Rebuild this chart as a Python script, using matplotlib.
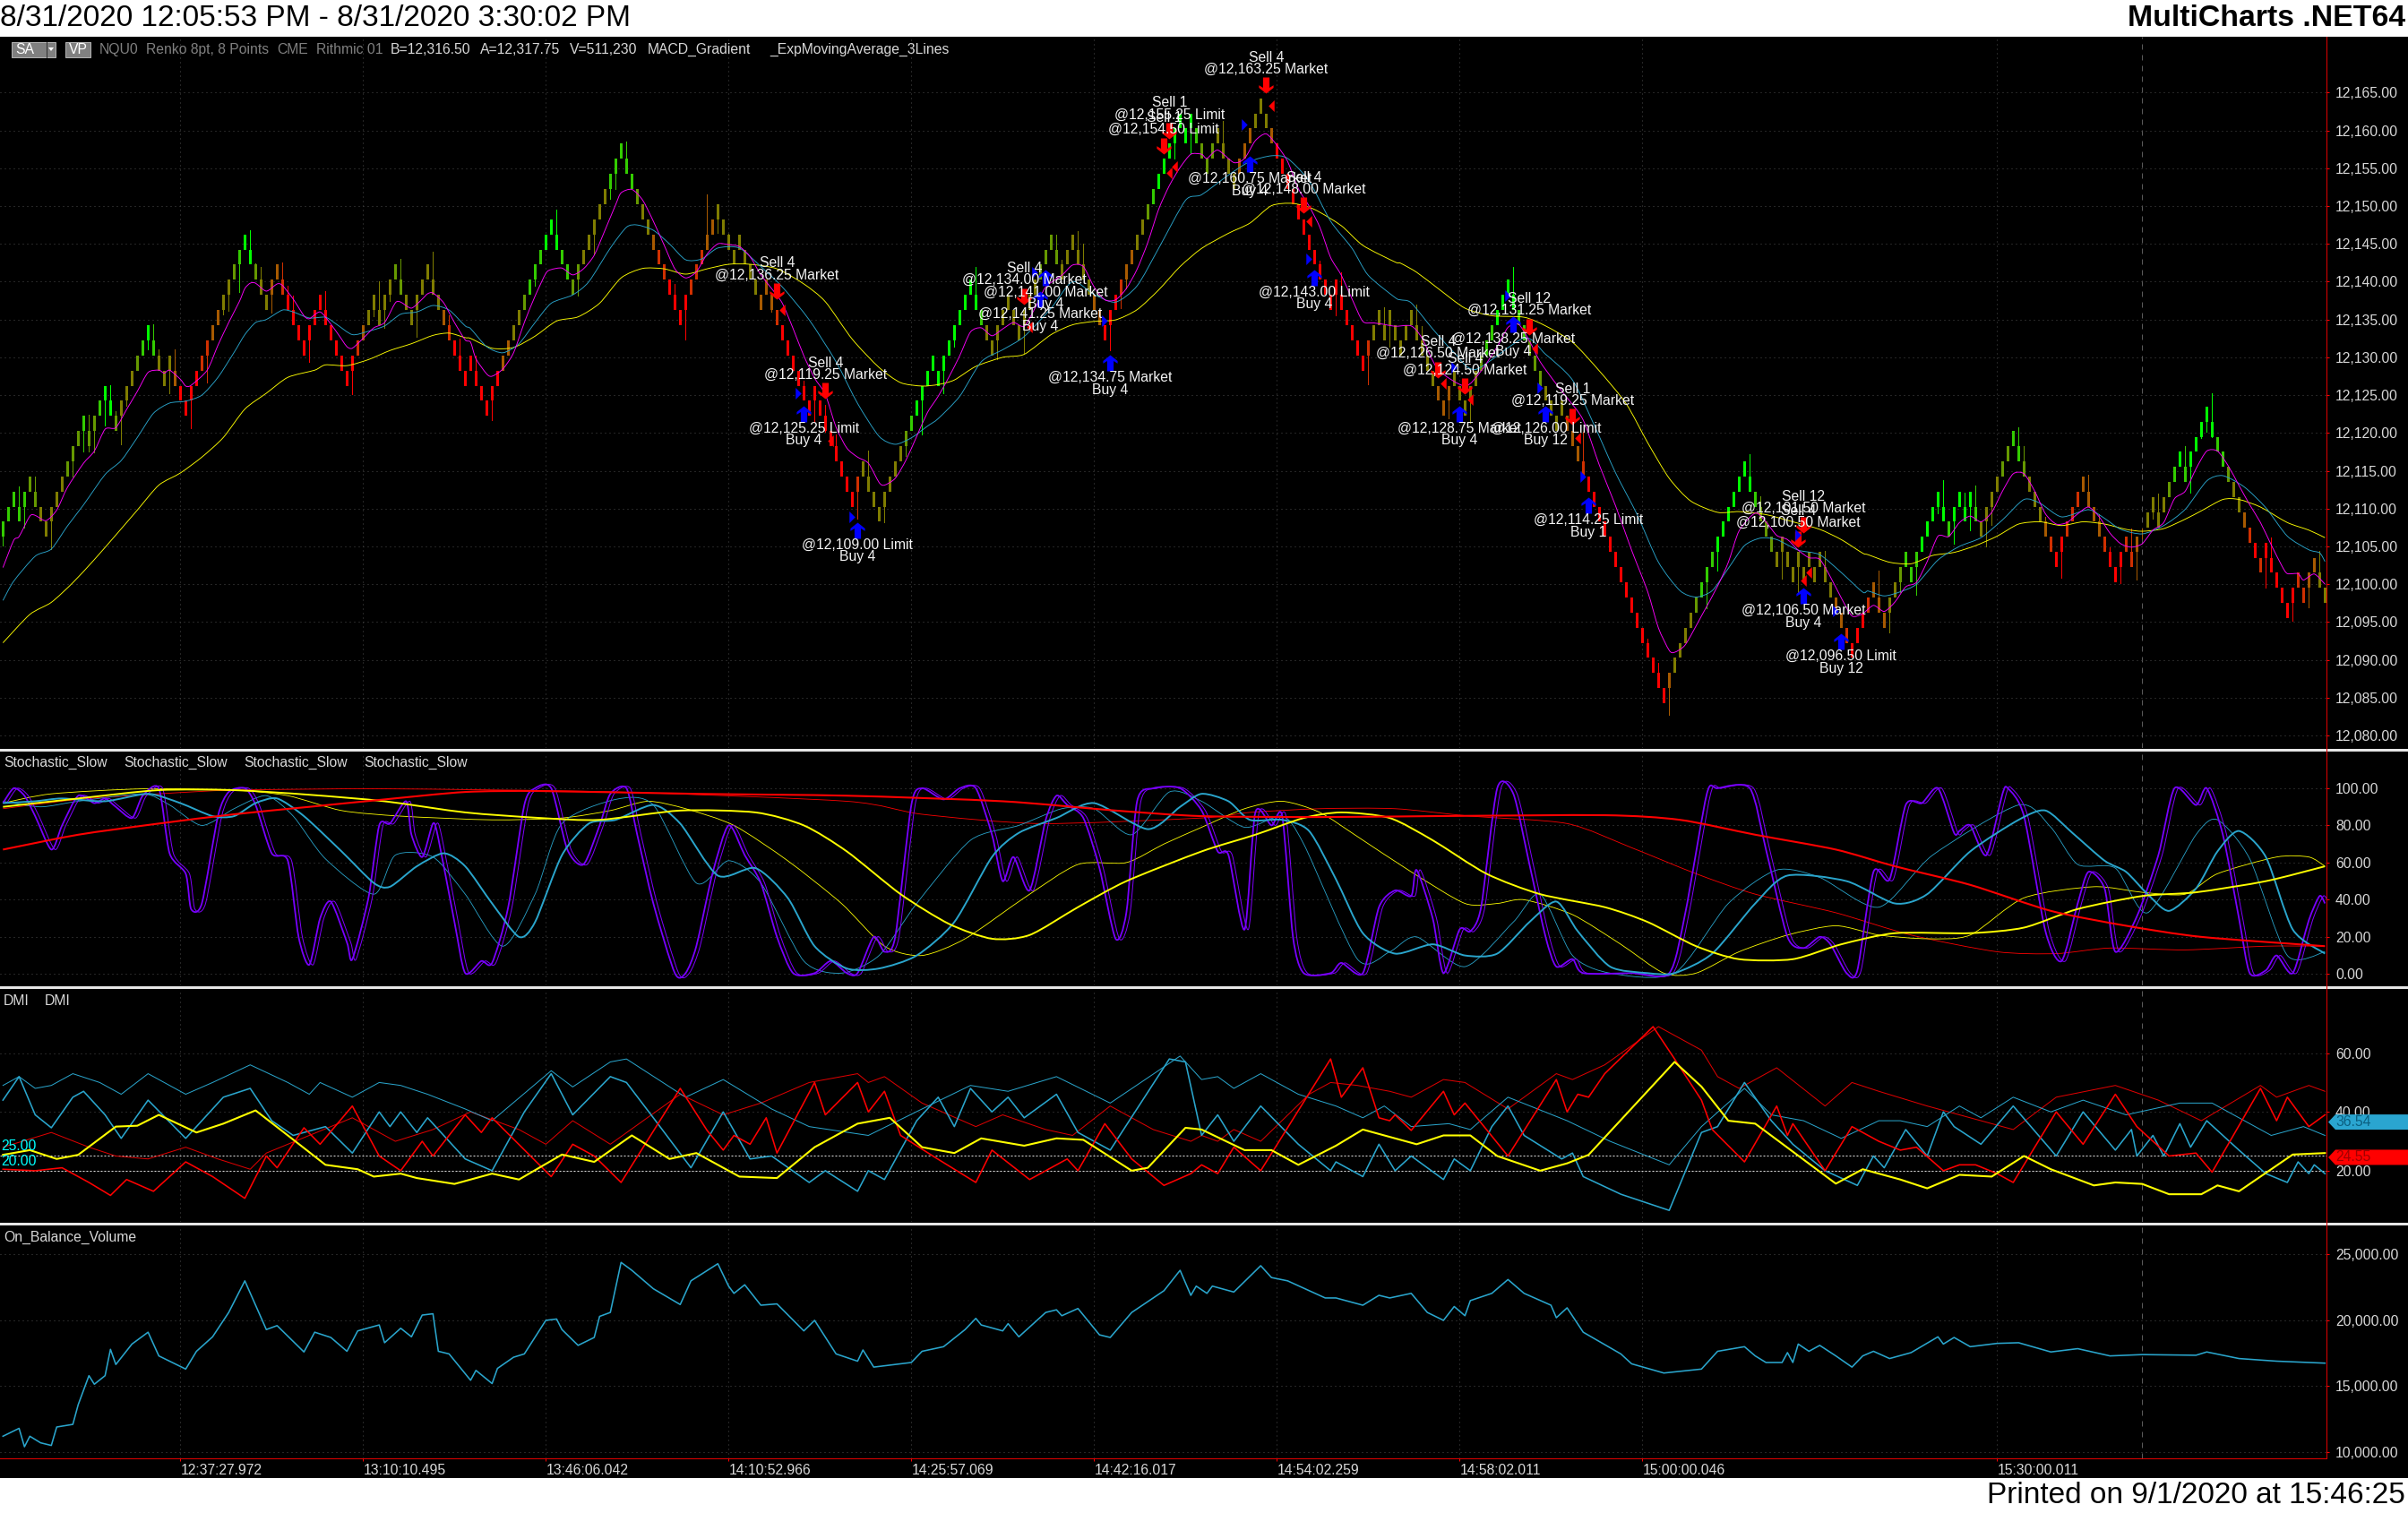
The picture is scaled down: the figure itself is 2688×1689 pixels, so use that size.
import numpy as np
import matplotlib
matplotlib.use("Agg")
import matplotlib.pyplot as plt
from matplotlib.path import Path
from matplotlib.patches import Rectangle, Polygon, PathPatch

plt.rcParams['font.family'] = ['Liberation Sans', 'DejaVu Sans']

# ---------------------------------------------------------------- data
PRICE_BASE = 12000.0   # every price list below is in points above 12,000

bar_top = [
 108.25,110.25,112.25,110.25,112.25,114.25,112.25,110.25,108.25,110.25,
 112.25,114.25,116.25,118.25,120.25,122.25,120.25,122.25,124.25,126.25,
 124.25,122.25,124.25,126.25,128.25,130.25,132.25,134.25,132.25,130.25,
 128.25,130.25,128.25,126.25,124.25,126.25,128.25,130.25,132.25,134.25,
 136.25,138.25,140.25,142.25,144.25,146.25,144.25,142.25,140.25,138.25,
 140.25,142.25,140.25,138.25,136.25,134.25,132.25,134.25,136.25,138.25,
 136.25,134.25,132.25,130.25,128.25,130.25,132.25,134.25,136.25,138.25,
 136.25,138.25,140.25,142.25,140.25,138.25,136.25,138.25,140.25,142.25,
 140.25,138.25,136.25,134.25,132.25,130.25,128.25,130.25,128.25,126.25,
 124.25,126.25,128.25,130.25,132.25,134.25,136.25,138.25,140.25,142.25,
 144.25,146.25,148.25,146.25,144.25,142.25,140.25,142.25,144.25,146.25,
 148.25,150.25,152.25,154.25,156.25,158.25,156.25,154.25,152.25,150.25,
 148.25,146.25,144.25,142.25,140.25,138.25,136.25,138.25,140.25,142.25,
 144.25,146.25,148.25,150.25,148.25,146.25,144.25,146.25,144.25,142.25,
 140.25,138.25,140.25,138.25,136.25,134.25,132.25,130.25,128.25,126.25,
 124.25,126.25,124.25,122.25,120.25,118.25,116.25,114.25,112.25,114.25,
 116.25,114.25,112.25,110.25,112.25,114.25,116.25,118.25,120.25,122.25,
 124.25,126.25,128.25,130.25,128.25,130.25,132.25,134.25,136.25,138.25,
 140.25,138.25,136.25,134.25,132.25,134.25,136.25,138.25,136.25,134.25,
 136.25,138.25,140.25,142.25,144.25,146.25,144.25,142.25,144.25,146.25,
 144.25,142.25,140.25,138.25,136.25,134.25,136.25,138.25,140.25,142.25,
 144.25,146.25,148.25,150.25,152.25,154.25,156.25,158.25,160.25,162.25,
 160.25,162.25,160.25,158.25,156.25,158.25,160.25,158.25,156.25,154.25,
 156.25,158.25,160.25,162.25,164.25,162.25,160.25,158.25,156.25,154.25,
 152.25,150.25,148.25,146.25,144.25,142.25,140.25,138.25,140.25,138.25,
 136.25,134.25,132.25,130.25,132.25,134.25,136.25,134.25,136.25,134.25,
 132.25,134.25,136.25,134.25,132.25,130.25,128.25,126.25,124.25,126.25,
 128.25,126.25,124.25,126.25,128.25,130.25,132.25,134.25,136.25,138.25,
 140.25,138.25,136.25,134.25,132.25,130.25,128.25,126.25,124.25,122.25,
 124.25,122.25,120.25,118.25,116.25,114.25,112.25,110.25,108.25,106.25,
 104.25,102.25,100.25,98.25,96.25,94.25,92.25,90.25,88.25,86.25,
 88.25,90.25,92.25,94.25,96.25,98.25,100.25,102.25,104.25,106.25,
 108.25,110.25,112.25,114.25,116.25,114.25,112.25,110.25,108.25,106.25,
 104.25,106.25,104.25,102.25,104.25,102.25,104.25,102.25,104.25,102.25,
 100.25,98.25,96.25,94.25,92.25,94.25,96.25,98.25,100.25,98.25,
 96.25,98.25,100.25,102.25,104.25,102.25,104.25,106.25,108.25,110.25,
 112.25,110.25,108.25,110.25,112.25,110.25,112.25,110.25,108.25,110.25,
 112.25,114.25,116.25,118.25,120.25,118.25,116.25,114.25,112.25,110.25,
 108.25,106.25,104.25,106.25,108.25,110.25,112.25,114.25,112.25,110.25,
 108.25,106.25,104.25,102.25,104.25,106.25,104.25,106.25,107.25,109.5,
 111.5,109.5,111.5,113.5,115.5,117.5,115.5,117.5,119.5,121.5,
 123.5,121.5,119.5,117.5,115.5,113.5,111.5,109.5,107.5,105.5,
 103.5,105.5,103.5,101.5,99.5,97.5,99.5,101.5,99.5,101.5,
 103.5,101.5,99.5]
BRICK = 2.0
doji_bars = [398]

# (first bar of run, MACD gradient shade)
shade_runs = [(0,'g'),(5,'y'),(7,'o'),(12,'y'),(15,'g'),(16,'y'),(18,'g'),(19,'G'),(21,'y'),(22,'o'),(25,'y'),(26,'g'),
 (27,'G'),(28,'g'),(29,'o'),(32,'b'),(33,'R'),(37,'r'),(39,'b'),(41,'o'),(43,'y'),(44,'g'),(45,'G'),(47,'y'),(48,'o'),
 (50,'b'),(52,'r'),(53,'R'),(66,'r'),(67,'b'),(68,'o'),(73,'y'),(75,'o'),(82,'b'),(83,'r'),(84,'R'),(93,'b'),(95,'o'),
 (97,'y'),(98,'g'),(101,'G'),(104,'g'),(106,'y'),(108,'o'),(113,'g'),(118,'y'),(119,'o'),(121,'b'),(122,'r'),(124,'R'),
 (128,'r'),(131,'b'),(133,'o'),(141,'b'),(144,'r'),(145,'R'),(159,'r'),(160,'o'),(168,'y'),(169,'g'),(170,'G'),(182,'g'),
 (183,'o'),(193,'y'),(197,'o'),(203,'b'),(205,'R'),(208,'r'),(209,'b'),(211,'o'),(213,'y'),(214,'g'),(215,'G'),(222,'g'),
 (223,'y'),(226,'o'),(230,'b'),(233,'o'),(236,'b'),(237,'R'),(254,'r'),(255,'o'),(267,'b'),(270,'o'),(275,'y'),(276,'g'),
 (278,'G'),(282,'g'),(284,'y'),(287,'o'),(291,'b'),(294,'r'),(295,'R'),(310,'b'),(311,'o'),(315,'y'),(316,'g'),(319,'G'),
 (326,'g'),(327,'y'),(330,'o'),(341,'b'),(343,'r'),(344,'R'),(347,'r'),(348,'b'),(351,'o'),(353,'y'),(354,'g'),(357,'G'),
 (362,'g'),(363,'G'),(367,'g'),(368,'o'),(372,'y'),(374,'g'),(376,'y'),(377,'o'),(380,'b'),(381,'r'),(382,'R'),(384,'r'),
 (387,'b'),(391,'r'),(392,'R'),(395,'r'),(397,'b'),(399,'o'),(403,'y'),(404,'g'),(405,'G'),(406,'g'),(407,'G'),(412,'g'),
 (414,'y'),(415,'o'),(417,'b'),(418,'r'),(419,'R'),(420,'r'),(421,'R'),(427,'r'),(429,'b'),(431,'o')]
shade_colors = {'G':'#00FF00','g':'#33CC00','y':'#669900','o':'#807D00','b':'#A85A00','r':'#D03000','R':'#FF0000'}

wick_high = [(3,112.9),(6,114.2),(16,122.4),(20,126.3),(21,122.9),(28,134.4),(29,131.0),(32,131.0),(46,146.8),(47,142.45),
 (48,142.0),(52,142.5),(53,139.5),(54,138.2),(60,138.75),(70,140.0),(74,143.0),(80,144.0),(83,135.55),(85,132.5),
 (88,130.2),(103,149.5),(116,158.5),(125,139.7),(131,151.5),(133,146.5),(134,146.5),(135,146.3),(149,126.9),(153,123.7),
 (155,119.75),(161,117.7),(181,142.0),(196,146.25),(197,142.85),(200,146.7),(201,145.0),(227,161.2),(245,142.75),(249,141.2),
 (257,136.6),(263,137.0),(264,134.1),(281,141.95),(294,120.1),(306,92.85),(308,89.55),(325,117.2),(327,111.6),(339,104.4),
 (349,101.8),(361,113.75),(365,112.15),(367,113.0),(375,120.75),(376,118.25),(380,108.9),(388,114.45),(390,109.25),(392,104.9),
 (396,107.35),(398,107.35),(401,112.0),(406,118.25),(411,125.25),(422,106.15),(431,104.45)]
wick_low = [(0,105.1),(4,107.5),(9,104.65),(13,114.25),(15,117.6),(16,117.6),(17,117.4),(19,121.0),(22,118.55),(23,123.6),
 (27,131.1),(31,125.25),(35,120.6),(38,126.65),(41,135.65),(42,136.1),(44,138.6),(50,135.9),(57,129.4),(65,125.1),(69,135.4),
 (71,133.9),(72,137.4),(77,132.65),(91,121.75),(99,139.5),(107,138.1),(110,143.65),(113,151.0),(114,152.3),(127,132.4),
 (143,136.0),(151,121.5),(153,120.15),(159,108.7),(164,108.2),(168,117.0),(171,119.75),(175,125.25),(177,131.4),(185,129.8),
 (190,130.6),(206,130.9),(208,136.5),(209,139.1),(218,156.3),(221,157.0),(248,135.5),(254,126.4),(258,131.4),(269,121.9),
 (273,121.3),(310,82.75),(317,96.8),(319,101.85),(331,100.75),(334,99.0),(351,93.6),(353,99.0),(356,98.65),(360,109.4),
 (363,105.35),(366,107.15),(369,105.0),(370,107.85),(383,100.8),(394,100.1),(397,100.6),(398,106.0),(400,108.65),(407,112.1),
 (409,119.3),(410,120.15),(411,119.4),(421,99.6),(426,95.2),(429,96.9)]

ema_fast = [(0,102.2),(2,105.8),(3,106.3),(5,109),(6,109.1),(8,108.4),(10,109.8),(12,112.8),(15,116),(17,117.6),(19,120.5),(21,120.7),
 (23,123.1),(25,125.5),(27,128),(29,128.3),(30,127.9),(31,128.3),(33,127.1),(34,126.2),(35,126.3),(38,128.3),(40,131.6),(42,134.6),
 (44,137.4),(45,139.1),(46,139.8),(47,139.8),(49,138.75),(51,139.7),(52,139.5),(54,137.7),(56,135.5),(57,135.1),(59,136),(61,134.4),
 (63,132.4),(64,131.4),(65,131.2),(67,132.5),(69,133.9),(71,134.6),(73,137.2),(74,137.3),(76,136.5),(78,137.7),(79,138.4),(80,138.5),
 (82,137.2),(84,134.6),(86,132.3),(87,132),(88,129.8),(90,127.8),(91,127.5),(93,128.45),(95,130.6),(97,134.6),(99,138.1),(101,141.1),
 (102,141.6),(104,141.8),(106,140.9),(108,141.7),(110,143.5),(112,146.8),(114,150.2),(115,151.75),(117,152.2),(119,150.8),(121,148),
 (123,144.85),(125,141.7),(127,140.5),(129,141.3),(131,143.65),(133,145),(135,144.9),(137,144.65),(139,143.3),(141,140.9),(143,139.1),
 (145,137.15),(147,133.8),(149,130.2),(151,127.25),(153,125.1),(155,120.75),(157,118),(159,116.8),(161,116),(163,113.45),(164,113.1),
 (166,114),(168,116.4),(170,119.55),(172,122.7),(174,124.85),(176,127.4),(178,130.2),(180,133.35),(182,133.9),(184,132.85),(186,133.75),
 (188,134.6),(190,134.1),(192,136.5),(194,139.3),(197,140.85),(199,142.2),(201,142),(203,139.3),(205,137.6),(207,137.6),(209,139.1),
 (211,141.65),(213,145.2),(215,149.55),(217,152.7),(219,155.1),(221,156.85),(223,156.85),(224,156.3),(226,157.4),(229,155.75),(231,156.3),
 (233,158.65),(235,159.55),(237,158.05),(239,155.9),(241,152.3),(243,150),(245,147.2),(247,143.2),(249,140.85),(251,137.7),(253,134.75),
 (255,134.55),(257,134.35),(259,134.1),(262,134.15),(264,132.55),(267,128.4),(272,126.2),(275,128.2),(278,131.4),(280,133.95),(282,134.35),
 (284,132.15),(286,129.4),(289,126.45),(291,124.65),(294,121.7),(297,115.75),(300,110.4),(303,104.5),(306,99),(308,94.2),(310,91.25),
 (311,91),(313,92),(316,95.8),(319,99.75),(321,102.9),(323,107.05),(326,109.4),(328,108.25),(330,106.45),(332,105.9),(334,104.5),
 (336,103.5),(338,103.3),(340,100.95),(342,98.2),(344,95.8),(346,96.1),(348,97.2),(350,96.4),(352,97.65),(354,99.65),(356,100.25),
 (358,103),(360,106.35),(362,106.3),(364,108.15),(366,109),(368,108.25),(370,109.5),(372,112.3),(374,114.6),(376,114.6),(378,112.3),
 (380,109.3),(382,107.95),(384,108.15),(386,109.3),(388,110.2),(390,108.9),(392,106.75),(394,105.35),(396,104.9),(398,105.35),(400,107.15),
 (402,108.15),(404,111.3),(406,112.3),(408,115.25),(410,117.6),(412,117.6),(414,115.65),(416,113.05),(418,110.5),(420,108.15),(422,105.2),
 (424,102.4),(425,101.4),(427,101.4),(428,100.55),(430,101.35),(432,100)]
ema_mid = [(0,97.85),(2,100.4),(6,103.7),(9,104.65),(12,107.7),(15,110.5),(19,114.5),(22,116.35),(25,119.4),(28,122.6),(31,123.95),(34,124.2),
 (37,125),(40,127.35),(43,130.65),(45,133),(47,134.6),(49,135),(52,136.25),(54,136),(57,135.2),(60,135.3),(62,134.4),(65,133),(68,133.45),
 (71,134.15),(74,135.7),(77,136),(80,136.85),(83,136.25),(86,134.15),(87,133.8),(90,131.4),(93,130.6),(96,131.8),(99,134.6),(102,137.15),
 (106,138.25),(109,140),(113,144.45),(116,147.2),(118,147.5),(121,146.8),(124,145),(127,142.9),(130,143),(133,144.45),(137,144.45),(141,142),
 (145,139.3),(150,134.95),(155,129.4),(159,123.9),(163,119.55),(166,118.5),(169,119.35),(172,120.9),(174,121.9),(178,124.85),(182,129.4),
 (186,131),(190,132.75),(195,136.5),(199,140.0),(203,138.3),(207,137.3),(211,139.45),(215,144.4),(220,150.75),(223,151.5),(228,154.1),
 (232,155.9),(236,156.65),(239,156.3),(243,153.3),(247,148),(251,144.4),(254,140.85),(259,137.9),(260,137.6),(262,137.2),(266,133.75),
 (270,130.6),(274,128.4),(283,132.55),(287,130.4),(292,127),(296,121.1),(300,114.75),(304,109.25),(308,102.9),(312,99.15),(315,98.3),
 (318,99.15),(321,102.1),(324,105.1),(327,106.1),(330,105.9),(334,104.5),(338,103.9),(342,101.55),(346,98.95),(347,99.1),(350,98.45),
 (353,99),(356,100),(360,103.2),(364,105),(368,106.15),(372,108.5),(376,111.2),(379,110.7),(383,108.9),(388,109.85),(391,108.7),(394,107.25),
 (398,106.65),(402,107.75),(406,109.9),(410,113.65),(413,114.35),(417,112.85),(421,110.1),(425,106.35),(429,104.55),(431,104.15),(432,103)]
ema_slow = [(0,92.25),(5,96),(9,97.6),(13,100.2),(17,103.25),(21,106.5),(25,109.8),(29,113.1),(33,114.7),(37,116.8),(41,119.4),(45,123.15),
 (49,125.25),(53,127.35),(58,128.3),(60,129),(64,128.9),(68,129.7),(72,130.9),(76,131.8),(80,132.9),(83,133.2),(86,132.6),(87,132.5),(91,131.2),
 (95,131.3),(99,132.8),(103,134.8),(107,135.35),(111,137.15),(115,140.5),(119,141.75),(123,141.7),(127,141),(131,141.7),(135,142.3),(139,142.3),
 (144,141.7),(149,139.7),(153,137.35),(158,132.4),(163,128.65),(167,126.65),(171,126.2),(174,126.4),(177,127),(181,128.8),(186,130),(190,130.4),
 (195,133),(199,134.3),(203,134.75),(207,134.95),(211,136.3),(215,138.9),(219,142),(223,144.4),(228,146.4),(232,147.75),(236,150.05),(240,150.35),
 (244,149.55),(249,147.4),(253,144.8),(259,142.6),(260,142.45),(263,141.25),(267,139.1),(272,136.5),(277,135.5),(283,135.3),(287,134.15),(292,132),
 (297,128.2),(302,123.85),(306,118.7),(310,114),(314,111),(319,109.5),(323,109.6),(328,109.2),(333,108.25),(338,107.25),(342,105.9),(346,104.1),
 (347,103.9),(351,102.9),(355,102.7),(359,103.8),(363,104.2),(367,105.1),(371,106.35),(375,107.95),(379,108.25),(383,107.75),(387,108.25),(391,107.95),
 (395,107.25),(398,107),(402,107.35),(406,108.6),(409,109.7),(413,111.2),(416,111.2),(420,110.2),(425,108.15),(429,107.15),(432,106.15)]

stoch_purple = [(0,92),(2,100),(4,96),(6,85),(9,67),(11,80),(14,96),(17,92),(19,94.5),(21,90),(24,84),(26,96),(29,100),(31,65),(34,54),(35,35),(37,38),
 (40,85),(42,98),(45,100),(47,91),(50,65),(53,61),(55,20),(57,5),(59,30),(61,39),(64,17),(65,8),(68,41),(70,80),(72,81),(75,93),(76,75),(78,63),(80,81),
 (81,73),(84,28),(86,.5),(89,7),(91,6),(94,36),(97,91),(99,100),(102,100),(105,67),(108,59),(111,80),(113,97),(116,100),(118,75),(121,38),(125,.5),(127,.5),
 (129,15),(132,54),(135,80),(138,64),(141,49),(144,20),(147,.5),(151,.5),(154,7),(157,.5),(159,.5),(162,20),(164,12),(166,20),(169,91),(171,100),(175,94),
 (178,100),(181,100),(184,75),(186,50),(188,63),(191,45),(194,83),(196,96),(198,91),(201,84),(204,57),(207,19),(209,33),(211,93),(214,100),(219,100),(223,88),
 (226,66),(228,64),(231,24),(233,87),(236,80),(238,85),(240,20),(242,.5),(247,.5),(249,6),(253,.5),(256,36),(259,45),(262,42),(263,56),(266,30),(268,.5),
 (271,24),(273,23),(275,36),(278,100),(281,97),(284,59),(287,20),(289,4),(292,8),(294,.5),(303,.5),(310,.5),(313,33),(317,97),(319,100),(325,100),(328,67),
 (332,20),(335,14),(338,20),(340,16),(343,.5),(345,2),(348,55),(351,51),(354,91),(357,92),(360,100),(363,76),(364,77),(366,80),(369,64),(372,97),(373,100),
 (376,85),(380,23),(383,7),(386,38),(388,55),(391,46),(393,12),(397,31),(401,64),(404,100),(408,91),(410,100),(413,75),(416,30),(418,.5),(421,2),(423,10),
 (426,.5),(429,29),(431,42),(432,38)]
stoch_blue = [(0,92),(6,93),(11,94.5),(19,93),(27,97),(33,92),(39,85),(43,85),(47,92),(51,94.5),(56,85),(63,66),(69,49),(72,47),(77,58),(82,65),(86,58),(91,38),
 (96,20),(99,28),(104,64),(109,81),(114,83),(121,91),(126,81),(133,53),(140,57),(146,41),(151,15),(157,3),(163,3),(170,10),(177,28),(184,63),(189,76),(196,84),
 (203,92),(213,78),(219,90),(223,97),(228,93),(232,83),(238,83),(243,77),(248,51),(253,22),(259,11),(266,16),(272,10),(278,11),(284,28),(289,39),(293,23),(299,4),
 (306,.5),(311,.5),(318,11),(326,38),(332,53),(343,50),(352,38),(358,43),(366,66),(375,83),(380,88),(385,76),(391,61),(395,55),(399,43),(403,34),(408,46),(412,66),
 (416,77),(421,63),(426,24),(432,11)]
stoch_blue_thin = [(0,93),(7,90),(14,93),(26,97),(31,91),(37,80),(43,89),(49,96),(54,85),(60,62),(69,43),(73,64),(80,63),(86,43),(93,15),(99,43),(104,81),(114,94),
 (121,91),(129,49),(135,61),(141,49),(149,7),(156,.5),(163,10),(170,38),(180,72),(189,80),(197,89),(203,89),(210,75),(217,98),(223,93),(231,79),(238,85),(242,70),
 (252,8),(258,12),(263,20),(272,4),(281,28),(286,43),(292,10),(299,.5),(311,.5),(321,38),(330,56),(338,52),(349,36),(359,64),(375,91),(381,79),(386,59),(393,57),
 (399,33),(408,75),(412,83),(418,62),(425,10),(432,12)]
stoch_yellow = [(0,90),(14,94.5),(29,99),(43,99),(57,96.5),(71,93),(86,87),(100,84),(111,83),(126,88),(140,87),(149,80),(157,66),(167,43),(176,27),(184,19),(191,21),
 (200,36),(209,50),(223,66),(233,75),(242,84),(249,87),(258,84),(266,72),(276,54),(286,43),(298,36),(306,28),(315,15),(323,8),(333,8),(342,16),(352,22),(366,22),
 (376,25),(386,35),(398,42),(408,44),(421,50),(432,58)]
stoch_yellow_thin = [(0,92),(9,97),(26,99.7),(43,99),(53,96),(63,88),(74,85),(91,83),(104,84),(113,88),(120,93),(127,89),(136,80),(146,61),(156,38),(164,15),(171,10),
 (179,19),(190,41),(200,59),(209,60),(216,70),(223,79),(231,89),(238,93),(245,87),(252,74),(262,55),(272,38),(278,38),(283,40),(292,32),(301,16),(309,.5),(315,.5),
 (323,12),(332,21),(341,26),(349,21),(358,19),(366,21),(376,41),(389,47),(398,44),(406,43),(412,54),(423,63),(429,63),(432,58)]
stoch_red = [(0,67),(14,75),(29,81),(43,86),(57,90),(71,94),(86,98),(100,98.5),(129,97),(157,96),(186,93),(207,88),(223,85),(245,84.5),(266,85),(298,85.5),(312,83),
 (326,75),(341,67),(352,58),(366,48),(381,34),(395,26),(409,20),(432,15)]
stoch_red_thin = [(0,89),(14,94),(29,97),(43,99),(71,99.7),(114,98),(157,93),(171,86),(193,81),(223,84),(232,87),(245,89),(259,89),(273,85),(291,81),(303,68),(315,54),
 (326,43),(341,33),(355,21),(371,12),(382,11),(392,14),(406,13),(421,15),(432,15)]

dmi_blue = [(0,44),(3,52),(6,39),(9,34.6),(13,45),(15,47),(19,39),(22,31),(27,44),(34,31),(41,45),(46,48),(50,37),(54,32),(60,35),(65,26),(70,40),(72,35),(74,40),(77,33),
 (79,38),(86,24),(91,20),(97,40),(102,53),(106,39),(113,52),(116,50),(121,38),(128,21),(134,40),(139,24),(143,25),(150,16),(153,20),(159,13),(161,20),(164,17),(170,37),
 (174,45),(177,35),(180,48),(184,40),(187,45),(190,38),(196,46),(200,33),(206,27),(217,58),(220,57),(223,32),(226,39),(229,30),(234,42),(241,29),(247,20),(248,23),(253,18),
 (256,29),(259,20),(262,25),(268,17),(270,24),(273,20),(277,35),(280,42),(283,32),(290,24),(292,26),(294,18),(301,12),(310,6.5),(316,33),(319,35),(324,50),(329,37),(333,29),
 (339,20),(345,15),(348,25),(350,21),(354,34),(358,25),(361,40),(363,35),(368,29),(374,42),(382,25),(387,40),(393,27),(396,34),(397,25),(400,32),(402,25),(405,36),(407,28),
 (410,37),(416,27),(421,19),(425,16),(427,23),(429,19),(430,22),(432,19)]
dmi_blue_thin = [(0,49),(3,52),(6,48),(9,49),(13,53),(18,50),(22,46),(27,53),(34,46),(39,50),(46,56),(53,50),(57,46),(59,50),(65,45),(70,50),(74,49),(79,46),(86,41),(91,37),
 (102,54),(106,48.5),(113,57),(116,58),(127,45),(134,51),(143,41),(150,35),(161,32),(171,41),(180,49),(187,47),(196,52),(206,43),(219,59),(223,51),(226,52),(229,48),(234,53),
 (241,46),(248,42),(253,38),(257,42),(262,35),(269,36),(273,34),(280,45),(291,37),(299,30),(310,22),(316,35),(324,48),(329,39),(335,37),(342,31),(349,37),(353,37),(358,35),
 (364,42),(368,38),(374,45),(381,40),(387,44),(395,39),(405,43),(411,43),(422,32),(428,35),(432,32)]
dmi_red = [(0,20.5),(6,20),(11,21),(16,16),(20,11.6),(23,17),(28,13),(34,23),(39,18),(45,10.6),(49,25),(51,21),(56,34.6),(59,29),(65,42),(70,25),(74,20),(78,30),(80,25),(86,39),
 (89,33),(91,38),(102,18),(106,29),(110,25),(115,16),(126,48),(131,33.7),(134,27),(136,32),(139,29),(142,38),(144,26),(151,50),(153,39),(159,50),(161,40),(164,47),(167,32),
 (173,25),(181,16),(184,27),(191,17),(198,24),(200,20),(205,36),(210,24),(216,15),(221,19),(223,22),(226,19),(229,28),(234,20),(247,58),(249,45),(253,55),(256,38),(258,37),
 (259,39),(262,33.7),(268,47),(270,39),(272,43),(280,25),(289,51),(291,40),(293,46),(295,45),(298,53),(307,69),(311,58),(316,44),(318,34),(324,23),(330,42),(332,32),(333,36),
 (339,20),(344,35),(349,30),(353,27),(356,28),(361,20),(364,22),(367,22),(371,19),(374,16),(382,40),(387,29),(393,46),(397,35),(403,25),(408,26),(411,19.5),(420,48),(423,37),
 (425,45),(429,35),(432,39)]
dmi_red_thin = [(0,28),(9,33),(16,28),(21,25),(27,24),(34,28),(40,24),(46,20.5),(49,26),(57,32),(65,38),(73,30),(80,34),(87,40),(96,34),(101,29),(106,37),(113,29),(126,46),(134,39),
 (141,43),(150,50),(159,53),(161,50),(164,52),(171,43),(181,35),(186,39),(194,34),(199,32),(206,42),(214,34),(221,30),(223,32),(226,30),(229,34),(234,30),(243,46),(247,50),
 (252,49),(258,47),(262,45),(268,51),(272,50),(280,41),(289,53),(292,51),(298,56),(308,69),(316,61),(319,52),(323,48),(330,55),(339,42),(344,50),(349,47),(358,42),(366,38),
 (374,34),(382,45),(393,49),(401,44),(409,37),(420,49),(423,45),(429,49),(432,47)]
dmi_yellow = [(0,25.4),(5,27),(10,24),(14,25.4),(21,35),(25,35.3),(29,39),(36,33),(41,36),(47,40.5),(53,32),(60,22),(66,20.5),(69,18),(74,19),(77,17.5),(84,15.5),(91,19),(96,17),
 (104,25.5),(110,23),(117,32),(124,24),(129,26),(137,18),(144,17.5),(151,28),(159,36),(165,38),(171,28),(177,26),(182,31),(190,28.5),(196,31),(201,30.5),(210,20),(213,21),(220,34.6),
 (223,34),(231,27),(236,27),(241,22),(248,28.5),(253,34),(263,29),(268,32),(273,32),(278,25),(286,20),(291,22.5),(295,25.4),(311,57),(316,48.6),(321,37),(326,36),(341,15.6),
 (346,20.5),(353,17),(358,14),(364,18.6),(370,18),(376,25),(381,20.5),(389,15),(393,16),(398,15.5),(403,12),(409,12),(412,15),(416,13),(426,25.5),(432,26)]
dmi_flags = [(36.54,'#2AA5D0','#0B5F80'),(24.55,'#FF0000','#A00000')]

obv = [(0,11200),(3,11800),(4,10400),(5,11200),(7,10700),(9,10500),(10,11900),(13,12100),(14,13600),(16,15800),(17,15150),(19,15800),(20,17800),(21,16650),(24,18200),(27,19100),
 (29,17300),(31,16900),(34,16300),(36,17650),(39,18750),(42,20600),(45,23000),(49,19300),(51,19600),(56,17600),(58,19100),(61,18700),(64,17650),(66,19200),(70,19650),(71,18300),
 (74,19400),(76,18750),(78,20400),(80,20500),(81,17650),(83,17450),(87,15450),(88,16200),(91,15200),(92,16350),(95,17200),(97,17450),(101,20000),(103,20100),(104,19300),(107,18100),
 (110,18700),(111,20300),(113,20600),(115,24400),(117,23800),(121,22400),(126,21200),(128,23000),(133,24300),(135,22600),(136,22050),(138,22700),(141,21150),(144,21250),(149,19200),
 (151,20000),(155,17450),(159,16900),(160,17750),(162,16450),(169,16800),(171,17650),(175,18000),(179,19300),(181,20150),(182,19650),(186,19200),(187,19750),(189,18750),(194,20600),
 (196,20800),(197,20350),(200,20900),(204,18900),(206,18700),(210,20600),(216,22250),(219,23800),(221,21900),(222,22600),(224,22050),(225,22600),(229,22150),(234,24150),(236,23250),
 (239,23000),(246,21700),(248,21700),(253,21150),(256,21900),(258,21700),(262,22050),(265,20600),(268,20000),(270,21050),(272,20350),(273,21500),(277,22050),(280,23100),(283,22050),
 (288,21150),(289,20200),(291,20950),(294,19100),(301,17450),(303,16700),(309,16000),(316,16300),(319,17650),(324,18000),(326,17300),(328,16800),(331,16800),(332,17550),(333,16800),
 (334,18200),(336,17650),(338,18100),(341,17300),(344,16450),(346,17300),(348,17650),(351,17100),(355,17550),(360,18750),(361,18200),(363,18700),(366,18000),(371,18250),(375,18300),
 (381,17600),(386,17850),(392,17300),(398,17400),(408,17350),(410,17600),(416,17100),(423,16900),(432,16750)]

# (bar, arrow tip price, first text line, second text line)
sell_trades = [(144,137.7,"Sell 4","@12,136.25 Market"),(153,124.5,"Sell 4","@12,119.25 Market"),(217,158.9,"Sell 1","@12,155.25 Limit"),
 (216,156.9,"Sell 1","@12,154.50 Limit"),(235,164.9,"Sell 4","@12,163.25 Market"),(242,149.0,"Sell 4","@12,148.00 Market"),
 (190,137.0,"Sell 4","@12,134.00 Market"),(267,127.3,"Sell 4","@12,126.50 Market"),(272,125.1,"Sell 4","@12,124.50 Market"),
 (284,133.0,"Sell 12","@12,131.25 Market"),(292,121.1,"Sell 1","@12,119.25 Market"),(335,106.8,"Sell 12","@12,101.50 Market"),
 (334,104.9,"Sell 4","@12,100.50 Market")]
buy_trades = [(149,123.6,"@12,125.25 Limit","Buy 4"),(159,108.2,"@12,109.00 Limit","Buy 4"),(206,130.3,"@12,134.75 Market","Buy 4"),
 (194,141.6,"@12,141.00 Market","Buy 4"),(193,138.7,"@12,141.25 Market","Buy 4"),(232,156.6,"@12,160.75 Market","Buy 4"),
 (244,141.6,"@12,143.00 Limit","Buy 4"),(271,123.6,"@12,128.75 Market","Buy 4"),(281,135.4,"@12,138.25 Market","Buy 4"),
 (287,123.6,"@12,126.00 Limit","Buy 12"),(295,111.5,"@12,114.25 Limit","Buy 1"),(335,99.5,"@12,106.50 Market","Buy 4"),
 (342,93.5,"@12,096.50 Limit","Buy 12")]
entry_marks = [(148,125.3),(158,108.9),(205,134.8),(192,141.2),(231,160.8),(243,143.0),(270,128.7),(280,138.2),(286,126.0),(294,114.2),(334,106.5),(341,96.5)]
exit_marks = [(145,136.25),(154,119.0),(218,155.2),(217,154.4),(236,163.3),(243,148.0),(191,134.0),(268,126.5),(273,124.4),(285,131.2),(293,119.3),(336,101.5),(335,100.5)]

time_ticks = [33,67,101,135,169,203,237,271,305,371]
time_labels = ["12:37:27.972","13:10:10.495","13:46:06.042","14:10:52.966","14:25:57.069","14:42:16.017","14:54:02.259","14:58:02.011","15:00:00.046","15:30:00.011"]
session_break = 398

price_ticks = list(range(12080,12170,5))
stoch_ticks = [0,20,40,60,80,100]
dmi_ticks = [20,40,60]
dmi_levels = [25,20]
obv_ticks = [10000,15000,20000,25000]

# ---------------------------------------------------------------- layout
W, H = 2688, 1689
fig = plt.figure(figsize=(W/100, H/100), dpi=100, facecolor='white')
AXIS_X = 2597
TXT = '#D8D8D8'
FS = 11.3
px = 0.72

bg = fig.add_axes([0,0,1,1], zorder=0)
bg.set_xlim(0,W); bg.set_ylim(H,0); bg.axis('off')
bg.add_patch(Rectangle((0,41),W,1609,color='black',lw=0))

def panel(top, bot, ylim):
    ax = fig.add_axes([0, 1-bot/H, AXIS_X/W, (bot-top)/H], zorder=2)
    ax.set_facecolor('none')
    ax.set_xlim(-0.55, 432.28)
    ax.set_ylim(*ylim)
    for s in ax.spines.values():
        s.set_visible(False)
    ax.yaxis.tick_right()
    ax.tick_params(axis='y', colors='#FF0000', length=3*px, width=px, pad=5, labelcolor=TXT, labelsize=FS)
    ax.tick_params(axis='x', length=0, labelbottom=False)
    ax.set_xticks(time_ticks)
    for t in time_ticks:
        ax.axvline(t, color='#4A4A4A', lw=px, ls=(0,(1,4)), zorder=1)
    ax.axvline(session_break, color='#5A5A5A', lw=px, ls=(0,(6,6)), zorder=1)
    return ax

ax_p = panel(41, 835, (12078.34, 12172.39))
ax_s = panel(842, 1100, (-6.1, 118.3))
ax_d = panel(1106, 1364, (2.6, 81.2))
ax_o = panel(1370, 1628, (9520, 27070))

def set_yt(ax, ticks, fmt):
    ax.set_yticks(ticks)
    ax.set_yticklabels([format(t, fmt) for t in ticks])
    for t in ticks:
        ax.axhline(t, color='#4A4A4A', lw=px, ls=(0,(1,4)), zorder=1)

set_yt(ax_p, price_ticks, ',.2f')
set_yt(ax_s, stoch_ticks, '.2f')
set_yt(ax_d, dmi_ticks, '.2f')
set_yt(ax_o, obv_ticks, ',.2f')

def trace(ax, pairs, color, lw, z=4):
    a = np.array(pairs, dtype=float)
    ax.plot(a[:,0], a[:,1], color=color, lw=lw, zorder=z, solid_joinstyle='round')

def curve(ax, pairs, color, lw, base=0.0, shift=0.0, z=4):
    # a smooth stroke that passes exactly through each read point
    a = np.array(pairs, dtype=float)
    a[:,1] += base
    a[:,0] += shift
    verts = [tuple(a[0])]
    codes_ = [Path.MOVETO]
    for k in range(len(a)-1):
        prev = a[max(k-1,0)]
        nxt = a[min(k+2,len(a)-1)]
        c1 = a[k] + (a[k+1]-prev)/8
        c2 = a[k+1] - (nxt-a[k])/8
        verts += [tuple(c1), tuple(c2), tuple(a[k+1])]
        codes_ += [Path.CURVE4]*3
    ax.add_patch(PathPatch(Path(verts, codes_), fc='none', ec=color, lw=lw, zorder=z, joinstyle='round'))

# ---- price panel
bars = np.arange(len(bar_top))
tops = np.array(bar_top) + PRICE_BASE
starts = [r[0] for r in shade_runs]
codes = [shade_runs[np.searchsorted(starts, b, side='right')-1][1] for b in bars]
cols = [shade_colors[c] for c in codes]
h = np.full(len(bars), BRICK)
for d in doji_bars:
    h[d] = 0.0
ax_p.bar(bars, h, bottom=tops-h, width=0.52, color=cols, lw=0, zorder=3)
for b, v in wick_high:
    ax_p.plot([b,b], [tops[b]-h[b]/2, v+PRICE_BASE], color=cols[b], lw=px, zorder=2.5)
for b, v in wick_low:
    ax_p.plot([b,b], [tops[b]-h[b]/2, v+PRICE_BASE], color=cols[b], lw=px, zorder=2.5)

curve(ax_p, ema_slow, '#FFFF00', 0.65, PRICE_BASE)
curve(ax_p, ema_mid, '#2AA5CC', 0.65, PRICE_BASE)
curve(ax_p, ema_fast, '#FF00FF', 0.65, PRICE_BASE)

down_arrow = Path([(0,0),(.45,.36),(.45,.52),(.2,.36),(.2,1),(-.2,1),(-.2,.36),(-.45,.52),(-.45,.36),(0,0)], closed=True)
up_arrow = Path([(0,0),(.45,-.36),(.45,-.52),(.2,-.36),(.2,-1),(-.2,-1),(-.2,-.36),(-.45,-.52),(-.45,-.36),(0,0)], closed=True)
right_mark = Path([(-.5,-1),(.5,0),(-.5,1),(-.5,-1)], closed=True)
left_mark = Path([(.5,-1),(-.5,0),(.5,1),(.5,-1)], closed=True)
AS = 36*px
for b, p, l1, l2 in sell_trades:
    ax_p.plot([b],[p+PRICE_BASE], marker=down_arrow, ms=AS, color='#FF0000', mew=0, zorder=6, clip_on=False)
    for off, s in ((27,l2),(40,l1)):
        ax_p.annotate(s,(b,p+PRICE_BASE),xytext=(0,off*px),textcoords='offset points',ha='center',va='center',color='#F4F4F4',fontsize=FS,zorder=8)
for b, p, l1, l2 in buy_trades:
    ax_p.plot([b],[p+PRICE_BASE], marker=up_arrow, ms=AS, color='#0000FF', mew=0, zorder=6, clip_on=False)
    for off, s in ((-25,l1),(-39,l2)):
        ax_p.annotate(s,(b,p+PRICE_BASE),xytext=(0,off*px),textcoords='offset points',ha='center',va='center',color='#F4F4F4',fontsize=FS,zorder=8)
a = np.array(entry_marks)
ax_p.plot(a[:,0], a[:,1]+PRICE_BASE, ls='', marker=right_mark, ms=13*px, color='#0000FF', mew=0, zorder=6)
a = np.array(exit_marks)
ax_p.plot(a[:,0], a[:,1]+PRICE_BASE, ls='', marker=left_mark, ms=13*px, color='#FF0000', mew=0, zorder=6)

# ---- stochastic panel
curve(ax_s, stoch_red_thin, '#FF0000', 0.6)
curve(ax_s, stoch_yellow_thin, '#FFFF00', 0.6)
curve(ax_s, stoch_blue_thin, '#2AA5CC', 0.6)
curve(ax_s, stoch_purple, '#8000FF', 0.7, shift=0.7)
curve(ax_s, stoch_purple, '#7800FF', 1.3, z=5)
curve(ax_s, stoch_blue, '#2AA5CC', 1.4, z=5)
curve(ax_s, stoch_yellow, '#FFFF00', 1.4, z=5)
curve(ax_s, stoch_red, '#FF0000', 1.5, z=5)

# ---- DMI panel
for lv in dmi_levels:
    ax_d.axhline(lv, color='#E0E0E0', lw=px, ls=(0,(2,2)), zorder=2)
    ax_d.text(-0.3, lv+1.0, f'{lv:.2f}', color='#00FFFF', fontsize=FS, ha='left', va='bottom', zorder=8)
trace(ax_d, dmi_red_thin, '#E00000', 0.72)
trace(ax_d, dmi_blue_thin, '#2AA5CC', 0.72)
trace(ax_d, dmi_blue, '#2AA5CC', 1.15, z=5)
trace(ax_d, dmi_red, '#FF0000', 1.15, z=5)
trace(ax_d, dmi_yellow, '#FFFF00', 1.5, z=6)

# ---- OBV panel
trace(ax_o, obv, '#2AA5CC', 1.15)
ax_o.tick_params(axis='x', length=3*px, width=px, colors='#FF0000', labelbottom=True, labelcolor=TXT, labelsize=FS, pad=2)
ax_o.set_xticklabels(time_labels, ha='left')

# ---- overlay chrome
ov = fig.add_axes([0,0,1,1], zorder=5)
ov.set_xlim(0,W); ov.set_ylim(H,0); ov.axis('off')
for y in (837.5, 1102.5, 1366):
    ov.add_patch(Rectangle((0,y-1.5),W,3,color='#E6E6E6',lw=0))
ov.plot([AXIS_X,AXIS_X],[41,1628],color='#E00000',lw=px)
ov.plot([0,AXIS_X],[1628,1628],color='#E00000',lw=px)

ov.text(0,20.5,"8/31/2020 12:05:53 PM - 8/31/2020 3:30:02 PM",fontsize=24,color='black',va='center',ha='left')
ov.text(2685,20.5,"MultiCharts .NET64",fontsize=24.4,fontweight='bold',color='black',va='center',ha='right')
ov.text(2685,1669,"Printed on 9/1/2020 at 15:46:25",fontsize=24,color='black',va='center',ha='right')

ov.add_patch(Rectangle((13,47),49,17,fc='#808080',ec='#B0B0B0',lw=px))
ov.plot([52,52],[47,64],color='#303030',lw=px)
ov.text(28,55.5,"SA",color='white',fontsize=FS,ha='center',va='center')
ov.add_patch(Polygon([[54,53],[60,53],[57,57]],color='white',lw=0))
ov.add_patch(Rectangle((73,47),28,17,fc='#808080',ec='#B0B0B0',lw=px))
ov.text(87,55.5,"VP",color='white',fontsize=FS,ha='center',va='center')
for x,s,c in [(111,"NQU0",'#808080'),(163,"Renko 8pt, 8 Points",'#808080'),(309,"CME",'#808080'),(353,"Rithmic 01",'#808080'),
              (436,"B=12,316.50",TXT),(536,"A=12,317.75",TXT),(636,"V=511,230",TXT),(723,"MACD_Gradient",TXT),(859,"_ExpMovingAverage_3Lines",TXT)]:
    ov.text(x,55.5,s,color=c,fontsize=FS,ha='left',va='center')
for x in (4,138,272,406):
    ov.text(x,851,"Stochastic_Slow",color=TXT,fontsize=FS,ha='left',va='center')
for x in (4,50):
    ov.text(x,1117,"DMI",color=TXT,fontsize=FS,ha='left',va='center')
ov.text(4,1381,"On_Balance_Volume",color=TXT,fontsize=FS,ha='left',va='center')

for val, fc, tc in dmi_flags:
    y = ov.transData.inverted().transform(ax_d.transData.transform((0,val)))[1]
    ov.add_patch(Polygon([[AXIS_X+2,y],[AXIS_X+10,y-8.5],[W,y-8.5],[W,y+8.5],[AXIS_X+10,y+8.5]],color=fc,lw=0))
    ov.text(AXIS_X+10,y,f'{val:.2f}',color=tc,fontsize=FS,ha='left',va='center')

fig.savefig('out.png', dpi=100, facecolor='white')
